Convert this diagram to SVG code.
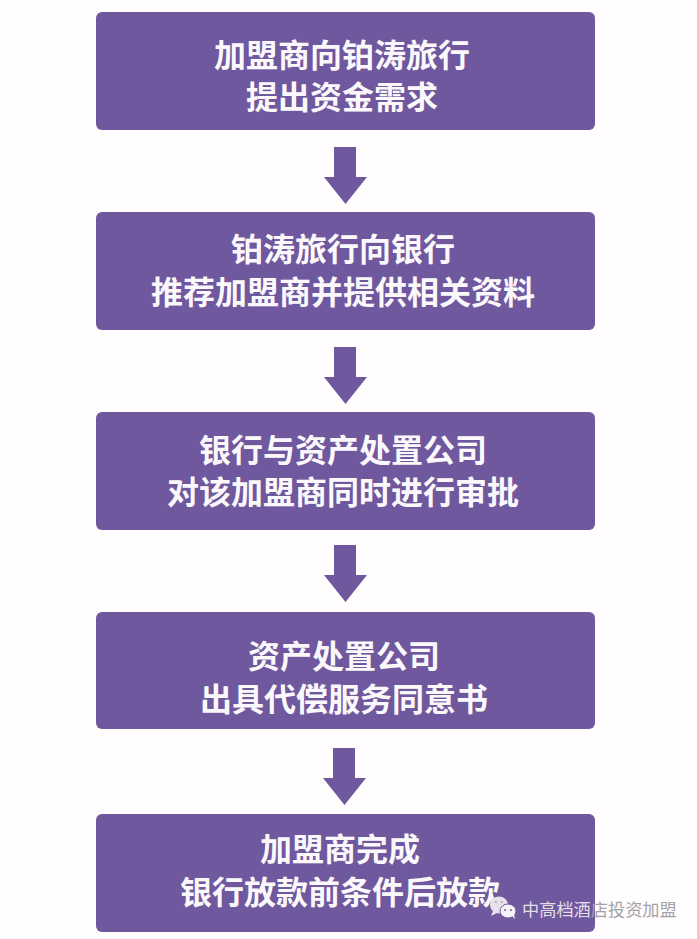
<svg xmlns="http://www.w3.org/2000/svg" width="697" height="939" viewBox="0 0 697 939">
<style>
.box{fill:#70589f}
.arrow{fill:#70589f}
.t{font-family:"Noto Sans CJK SC","Liberation Sans",sans-serif;font-size:32px;font-weight:700;fill:#fbf8fb;text-anchor:middle}
.wm{font-family:"Noto Sans CJK SC","Liberation Sans",sans-serif;font-size:17.2px;font-weight:400;fill:#e2dfe6}
.wm2{fill:#a3a1a6}
</style>
<rect width="697" height="939" fill="#fffdfe"/>
<g id="connectors">
<path class="arrow" d="M334 147H356V177H367L345.500 204L324 177H334Z"/>
<path class="arrow" d="M334 347H356V377H367L345.500 404L324 377H334Z"/>
<path class="arrow" d="M334 545H356V575H367L345.500 602L324 575H334Z"/>
<path class="arrow" d="M333 748H355V778H366L344.500 805L323 778H333Z"/>
</g>
<g id="node1"><rect class="box" x="96" y="12" width="499" height="118" rx="6"/>
<text class="t" x="342" y="67">加盟商向铂涛旅行</text><text class="t" x="342" y="109">提出资金需求</text></g>
<g id="node2"><rect class="box" x="96" y="212" width="499" height="118" rx="6"/>
<text class="t" x="343" y="261">铂涛旅行向银行</text><text class="t" x="343" y="304">推荐加盟商并提供相关资料</text></g>
<g id="node3"><rect class="box" x="96" y="412" width="499" height="118" rx="6"/>
<text class="t" x="343" y="462">银行与资产处置公司</text><text class="t" x="343" y="504">对该加盟商同时进行审批</text></g>
<g id="node4"><rect class="box" x="96" y="612" width="499" height="117" rx="6"/>
<text class="t" x="344" y="668">资产处置公司</text><text class="t" x="344" y="711">出具代偿服务同意书</text></g>
<g id="node5"><rect class="box" x="96" y="814" width="499" height="118" rx="6"/>
<text class="t" x="340" y="861">加盟商完成</text><text class="t" x="340" y="904">银行放款前条件后放款</text></g>
<g id="watermark">
<ellipse cx="499" cy="905" rx="9" ry="8.500" fill="#e6e2ea"/>
<path d="M493 911l-2 5 6-3Z" fill="#e6e2ea"/>
<ellipse cx="508" cy="911" rx="8" ry="7" fill="#f5f3f7" stroke="#70589f" stroke-width="1"/>
<path d="M512 916l3 3-1-5Z" fill="#f5f3f7"/>
<circle cx="505" cy="910" r="1" fill="#70589f"/><circle cx="511" cy="910" r="1" fill="#70589f"/>
<circle cx="496" cy="902" r="1" fill="#a99bc0"/><circle cx="502" cy="902" r="1" fill="#a99bc0"/>
<text class="wm" x="522" y="916">中高档酒<tspan class="wm2">店投资加盟</tspan></text>
</g>
</svg>
